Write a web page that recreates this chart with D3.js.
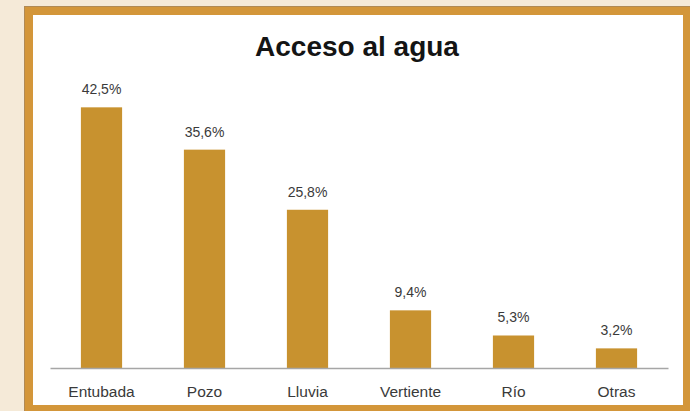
<!DOCTYPE html>
<html><head><meta charset="utf-8">
<script src="https://cdn.jsdelivr.net/npm/d3@7"></script>
<style>html,body{margin:0;padding:0;background:#f5ead8;}svg{display:block;}</style>
</head><body>
<svg id="c" width="690" height="411"></svg>
<script>
const categories = ["Entubada","Pozo","Lluvia","Vertiente","Río","Otras"];
const values = [42.5, 35.6, 25.8, 9.4, 5.3, 3.2];
const valueLabels = ["42,5%","35,6%","25,8%","9,4%","5,3%","3,2%"];
const title = "Acceso al agua";

const svg = d3.select("#c");
const font = "'Liberation Sans', Arial, sans-serif";
// frame
svg.append("rect").attr("x",0).attr("y",0).attr("width",690).attr("height",411).attr("fill","#f5ead8");
svg.append("rect").attr("x",24.5).attr("y",6.5).attr("width",700).attr("height",420).attr("fill","#d3963a").attr("stroke","#b08a55").attr("stroke-width",1);
svg.append("rect").attr("x",33).attr("y",15).attr("width",650).attr("height",390).attr("fill","#ffffff");

const x = d3.scaleBand().domain(categories).range([50,668]).paddingInner(0.6).paddingOuter(0.3);
const y = d3.scaleLinear().domain([0,45]).range([368,92]);

svg.append("text").attr("x",357).attr("y",56).attr("text-anchor","middle")
  .attr("font-family",font).attr("font-weight","bold").attr("font-size",28).attr("fill","#141414").text(title);

svg.selectAll("rect.bar").data(values).enter().append("rect").attr("class","bar")
  .attr("x",(d,i)=>x(categories[i])).attr("width",x.bandwidth())
  .attr("y",d=>y(d)).attr("height",d=>y(0)-y(d)).attr("fill","#c8922f");

svg.selectAll("text.val").data(values).enter().append("text").attr("class","val")
  .attr("x",(d,i)=>x(categories[i])+x.bandwidth()/2).attr("y",d=>y(d)-13)
  .attr("text-anchor","middle").attr("font-family",font).attr("font-size",14).attr("fill","#3a3a3a")
  .text((d,i)=>valueLabels[i]);

const axis = d3.axisBottom(x).tickSize(0).tickPadding(18);
const g = svg.append("g").attr("transform","translate(0,368)").call(axis);
g.select(".domain").attr("stroke","#a6a6a6").attr("stroke-width",1.5);
g.selectAll("text").attr("font-family",font).attr("font-size",15.5).attr("fill","#3a3a3a");
</script>
</body></html>
